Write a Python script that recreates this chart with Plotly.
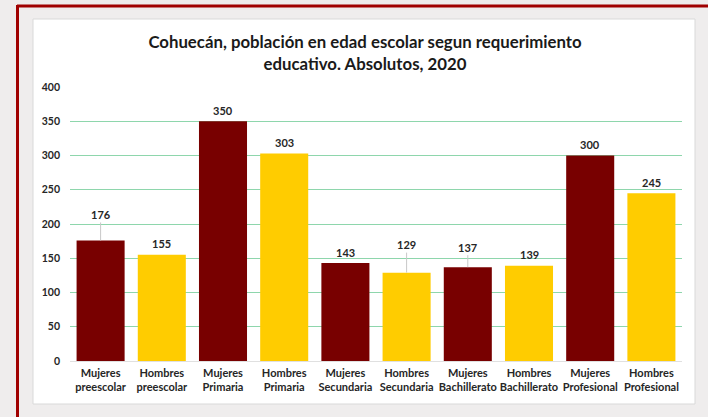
import plotly.graph_objects as go

categories = ["Mujeres<br>preescolar", "Hombres<br>preescolar", "Mujeres<br>Primaria", "Hombres<br>Primaria",
              "Mujeres<br>Secundaria", "Hombres<br>Secundaria", "Mujeres<br>Bachillerato", "Hombres<br>Bachillerato",
              "Mujeres<br>Profesional", "Hombres<br>Profesional"]
values = [176, 155, 350, 303, 143, 129, 137, 139, 300, 245]
y_ticks = [0, 50, 100, 150, 200, 250, 300, 350, 400]

RED = "#780000"
YELLOW = "#FFCC00"
colors = [RED if c.startswith("Mujeres") else YELLOW for c in categories]

fig = go.Figure()
fig.add_trace(go.Bar(x=categories, y=values, marker=dict(color=colors, line=dict(width=0)),
                     hoverinfo="skip"))

# label offsets (pixels above bar top); some have leader lines
leader = {0: 26, 5: 28, 6: 20}
annotations = []
for i, (c, v) in enumerate(zip(categories, values)):
    if i in leader:
        annotations.append(dict(x=c, y=v, xref="x", yref="y", text=str(v), showarrow=True,
                                arrowhead=0, arrowwidth=1, arrowcolor="#C8C8C8", ax=0, ay=-leader[i],
                                standoff=0, font=dict(family="Lato", size=11, color="#262626", weight="bold"),
                                xanchor="center", yanchor="middle"))
    else:
        annotations.append(dict(x=c, y=v, xref="x", yref="y", text=str(v), showarrow=False,
                                yshift=11, font=dict(family="Lato", size=11, color="#262626", weight="bold"),
                                xanchor="center", yanchor="middle"))

W, H = 708, 417
PL, PR, PT, PB = 70, 682, 87, 361
pw, ph = PR - PL, PB - PT


def px(x):
    return (x - PL) / pw


def py(y):
    return (PB - y) / ph


shapes = [
    dict(type="rect", xref="paper", yref="paper", layer="below",
         x0=px(33), x1=px(695), y0=py(404), y1=py(19),
         fillcolor="white", line=dict(color="#D9D9D9", width=1)),
    dict(type="line", xref="paper", yref="paper", layer="below",
         x0=px(17), x1=px(708), y0=py(6), y1=py(6),
         line=dict(color="#A00000", width=3)),
    dict(type="line", xref="paper", yref="paper", layer="below",
         x0=px(17.5), x1=px(17.5), y0=py(417), y1=py(5),
         line=dict(color="#A00000", width=3)),
]

fig.update_layout(
    width=W, height=H,
    margin=dict(l=PL, r=W - PR, t=PT, b=H - PB),
    paper_bgcolor="#EFEDED",
    plot_bgcolor="white",
    showlegend=False,
    bargap=0.215,
    title=dict(text="<b>Cohuecán, población en edad escolar segun requerimiento<br>educativo. Absolutos, 2020</b>",
               x=365 / W, xref="container", xanchor="center",
               y=1 - 48 / H, yref="container", yanchor="top",
               font=dict(family="Lato", size=16.8, color="#1a1a1a")),
    font=dict(family="Lato", color="#262626"),
    annotations=annotations,
    shapes=shapes,
)
fig.update_xaxes(tickfont=dict(family="Lato", size=11, color="#262626", weight="bold"),
                 showline=False, ticks="", showgrid=False, fixedrange=True, ticklabelstandoff=4)
fig.update_yaxes(range=[0, 400], tickvals=y_ticks, showgrid=True, gridcolor="#8ED6AC", gridwidth=1,
                 zeroline=True, zerolinecolor="#E0E0E0", zerolinewidth=1,
                 tickfont=dict(family="Lato", size=10.5, color="#262626", weight="bold"),
                 ticklabelstandoff=9, showline=False, ticks="")

fig.write_html("out.html", config={"displayModeBar": False},
               post_script="document.body.style.margin='0';")
